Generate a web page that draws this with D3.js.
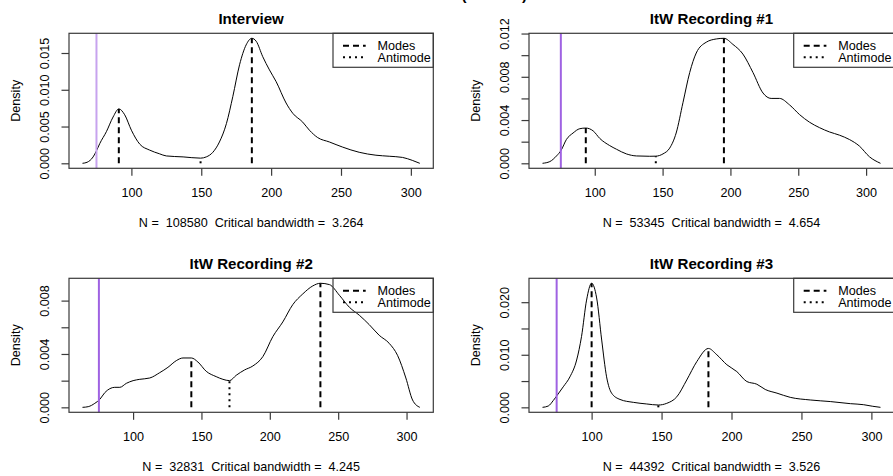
<!DOCTYPE html>
<html>
<head>
<meta charset="utf-8">
<script src="https://cdn.jsdelivr.net/npm/d3@7"></script>
<style>
  body { margin: 0; background: #fff; }
  svg { display: block; }
  text { font-family: "Liberation Sans", Arial, Helvetica, sans-serif; fill: #000; }
</style>
</head>
<body>
<svg id="chart" width="893" height="476"></svg>
<script>
// ---- figure and panel text ----
const figureTitle = "Mean F0 (in Hertz)";
const titles = ["Interview", "ItW Recording #1", "ItW Recording #2", "ItW Recording #3"];
const sampleSizes = ["108580", "53345", "32831", "44392"];
const bandwidths = ["3.264", "4.654", "4.245", "3.526"];
const legendLabels = ["Modes", "Antimode"];
const yAxisTitle = "Density";

// ---- axis ticks ----
const xTicks = [100, 150, 200, 250, 300];
const yTicksInterview = [0, 0.005, 0.010, 0.015];
const yLabelsInterview = ["0.000", "0.005", "0.010", "0.015"];
const yTicksRec1 = [0, 0.002, 0.004, 0.006, 0.008, 0.010, 0.012];
const yLabelsRec1 = ["0.000", "", "0.004", "", "0.008", "", "0.012"];
const yTicksRec2 = [0, 0.002, 0.004, 0.006, 0.008];
const yLabelsRec2 = ["0.000", "", "0.004", "", "0.008"];
const yTicksRec3 = [0, 0.005, 0.010, 0.015, 0.020];
const yLabelsRec3 = ["0.000", "", "0.010", "", "0.020"];

// ---- density estimates (x, density) ----
const interviewX = [65, 68.3, 72.6, 75, 77.4, 82.1, 86.9, 91, 95.2, 100, 106, 113, 120, 125, 137, 149.5, 153.6, 158.3, 163, 168, 172.6, 177.4, 182.1, 186.2, 189.3, 194, 198.8, 203.6, 210.7, 215.5, 222.6, 227.4, 233.3, 241.7, 251.2, 263, 275, 284.5, 294, 301, 306.4];
const interviewY = [0, 0.00014, 0.00087, 0.0017, 0.0027, 0.0043, 0.0063, 0.0074, 0.0066, 0.0045, 0.0026, 0.0018, 0.0013, 0.0010, 0.00087, 0.0007, 0.00087, 0.0015, 0.0029, 0.0054, 0.0091, 0.0134, 0.0161, 0.0170, 0.0166, 0.0145, 0.0127, 0.0111, 0.0082, 0.0068, 0.0056, 0.0045, 0.0035, 0.0029, 0.0022, 0.0015, 0.0011, 0.00096, 0.0008, 0.0004, 0];

const rec1X = [61.5, 66.9, 71.8, 75.2, 79.1, 84, 89, 93.4, 98.8, 103.7, 111, 116, 123.3, 130.7, 140.5, 145, 150.3, 155.2, 160, 165, 170, 174.8, 182.2, 189.6, 195.2, 201.8, 209.2, 216.6, 224, 230, 236.2, 243.6, 251, 258.3, 265.6, 273, 280.4, 287.7, 295, 302.5, 310.6];
const rec1Y = [0, 0.00016, 0.00068, 0.0012, 0.0022, 0.0028, 0.0032, 0.00326, 0.0030, 0.0023, 0.00164, 0.0013, 0.00087, 0.00068, 0.00065, 0.00066, 0.00087, 0.0014, 0.0028, 0.0056, 0.0084, 0.0102, 0.0112, 0.0115, 0.01156, 0.0110, 0.0101, 0.0084, 0.0065, 0.0060, 0.0060, 0.0054, 0.0045, 0.0038, 0.0033, 0.0029, 0.0026, 0.0022, 0.0016, 0.0006, 0];

const rec2X = [63, 67.2, 72, 75.7, 79.3, 83, 86.6, 90.3, 95.1, 100, 104.9, 112.2, 119.5, 125.5, 131.6, 136.5, 142.6, 147.4, 153.5, 160.8, 165.7, 170.5, 175.4, 181.5, 187.6, 194.9, 202.2, 209.5, 216.8, 224.1, 231.4, 237, 243.6, 250.9, 258.2, 265.5, 272.7, 280, 287.3, 293.4, 299.5, 304.4, 309.7];
const rec2Y = [0, 0.00005, 0.0003, 0.0006, 0.0011, 0.0014, 0.0015, 0.0015, 0.0018, 0.0020, 0.0021, 0.0022, 0.0026, 0.0030, 0.0035, 0.0037, 0.0037, 0.0034, 0.0027, 0.0023, 0.0021, 0.0020, 0.0024, 0.0028, 0.0031, 0.0038, 0.0053, 0.0064, 0.0077, 0.0085, 0.0091, 0.0093, 0.0092, 0.0084, 0.0075, 0.0069, 0.0062, 0.0054, 0.0048, 0.0039, 0.0022, 0.00055, 0];

const rec3X = [64.9, 69, 72.6, 75.4, 79.7, 84.5, 89.3, 92.8, 96.4, 100, 103.6, 107.2, 110.7, 114.3, 120.3, 129.8, 139.4, 147.7, 153.7, 160.9, 168, 175.2, 183.5, 189.5, 196.7, 203.8, 211, 218.1, 224.1, 232.5, 242, 256.3, 270.6, 285, 294.5, 301, 306.5];
const rec3Y = [0, 0.00025, 0.0013, 0.0023, 0.0039, 0.0058, 0.0090, 0.0135, 0.0204, 0.0236, 0.0208, 0.0128, 0.0058, 0.0027, 0.0015, 0.00095, 0.00064, 0.00044, 0.00076, 0.0020, 0.0052, 0.0087, 0.0112, 0.0100, 0.0081, 0.0068, 0.0049, 0.0044, 0.0034, 0.0027, 0.0019, 0.0014, 0.0011, 0.0007, 0.0005, 0.0002, 0];

// ---- modes, antimodes and the pitch-floor line ----
const modesInterview = [91, 186.2];
const modesRec1 = [93.4, 195.2];
const modesRec2 = [142.6, 237];
const modesRec3 = [100, 183.5];
const antimodes = [149.5, 145, 170.5, 147.7];
const floorValue = 75;

// ---- layout ----
const frames = [
  { left: 69,  top: 33.3,  right: 433.3, bottom: 168.3 },
  { left: 529, top: 33.3,  right: 894,   bottom: 168.3 },
  { left: 69,  top: 278.3, right: 433.3, bottom: 412.3 },
  { left: 529, top: 278.3, right: 894,   bottom: 412.3 }
];
const floorColors = ["#c7a3ee", "#9f62e2", "#9f62e2", "#9f62e2"];

const panels = [
  { x: interviewX, y: interviewY, modes: modesInterview, yTicks: yTicksInterview, yLabels: yLabelsInterview },
  { x: rec1X, y: rec1Y, modes: modesRec1, yTicks: yTicksRec1, yLabels: yLabelsRec1 },
  { x: rec2X, y: rec2Y, modes: modesRec2, yTicks: yTicksRec2, yLabels: yLabelsRec2 },
  { x: rec3X, y: rec3Y, modes: modesRec3, yTicks: yTicksRec3, yLabels: yLabelsRec3 }
];

const svg = d3.select("#chart");
const FS = 12.6;
const frameColor = "#3a3a3a";

// overall title, mostly above the visible area
svg.append("text")
  .attr("x", 462).attr("y", 0.3)
  .attr("text-anchor", "middle")
  .style("font-size", "15.1px").style("font-weight", "bold")
  .text(figureTitle);

// density value at x, read from the estimate
function densityAt(xs, ys, v) {
  const i = d3.bisectLeft(xs, v);
  if (i <= 0) return ys[0];
  if (i >= xs.length) return ys[ys.length - 1];
  const t = (v - xs[i - 1]) / (xs[i] - xs[i - 1]);
  return ys[i - 1] + t * (ys[i] - ys[i - 1]);
}

panels.forEach((p, k) => {
  const f = frames[k];
  const g = svg.append("g");

  // 4% padding on each side of the data range
  const [x0, x1] = d3.extent(p.x);
  const [y0, y1] = d3.extent(p.y);
  const xPad = (x1 - x0) * 0.04, yPad = (y1 - y0) * 0.04;
  const xs = d3.scaleLinear().domain([x0 - xPad, x1 + xPad]).range([f.left, f.right]);
  const ys = d3.scaleLinear().domain([y0 - yPad, y1 + yPad]).range([f.bottom, f.top]);

  // density curve
  const pts = p.x.map((v, i) => [v, p.y[i]]);
  g.append("path")
    .datum(pts)
    .attr("fill", "none")
    .attr("stroke", "#000")
    .attr("stroke-width", 1)
    .attr("d", d3.line().x(d => xs(d[0])).y(d => ys(d[1])).curve(d3.curveMonotoneX));

  // pitch-floor line
  g.append("line")
    .attr("x1", xs(floorValue)).attr("x2", xs(floorValue))
    .attr("y1", f.top).attr("y2", f.bottom)
    .attr("stroke", floorColors[k]).attr("stroke-width", 2);

  // mode segments
  p.modes.forEach(m => {
    g.append("line")
      .attr("x1", xs(m)).attr("x2", xs(m))
      .attr("y1", ys(0)).attr("y2", ys(densityAt(p.x, p.y, m)))
      .attr("stroke", "#000").attr("stroke-width", 2)
      .attr("stroke-dasharray", "6,4");
  });
  // antimode segment
  const a = antimodes[k];
  g.append("line")
    .attr("x1", xs(a)).attr("x2", xs(a))
    .attr("y1", ys(0)).attr("y2", ys(densityAt(p.x, p.y, a)))
    .attr("stroke", "#000").attr("stroke-width", 2)
    .attr("stroke-dasharray", "2,4");

  // frame
  g.append("rect")
    .attr("x", f.left).attr("y", f.top)
    .attr("width", f.right - f.left).attr("height", f.bottom - f.top)
    .attr("fill", "none").attr("stroke", frameColor).attr("stroke-width", 1.2);

  // x axis
  const xAxis = g.append("g").attr("transform", `translate(0,${f.bottom})`)
    .call(d3.axisBottom(xs).tickValues(xTicks).tickSize(7.5).tickSizeOuter(0).tickPadding(0));
  xAxis.select(".domain").remove();
  xAxis.selectAll(".tick line").attr("stroke", frameColor).attr("stroke-width", 1.2);
  xAxis.selectAll(".tick text").remove();
  xAxis.selectAll(".tick").append("text")
    .attr("y", 28.5).attr("text-anchor", "middle")
    .style("font-size", FS + "px")
    .text(d => d);

  // y axis
  const yAxis = g.append("g").attr("transform", `translate(${f.left},0)`)
    .call(d3.axisLeft(ys).tickValues(p.yTicks).tickSize(7.5).tickSizeOuter(0));
  yAxis.select(".domain").remove();
  yAxis.selectAll(".tick line").attr("stroke", frameColor).attr("stroke-width", 1.2);
  yAxis.selectAll(".tick text").remove();
  yAxis.selectAll(".tick").append("text")
    .attr("transform", "translate(-20.5,0) rotate(-90)")
    .attr("text-anchor", "middle")
    .style("font-size", FS + "px")
    .text((d, i) => p.yLabels[i]);

  // axis title
  g.append("text")
    .attr("transform", `translate(${f.left - 49},${(f.top + f.bottom) / 2}) rotate(-90)`)
    .attr("text-anchor", "middle")
    .style("font-size", FS + "px")
    .text(yAxisTitle);

  // panel title
  g.append("text")
    .attr("x", (f.left + f.right) / 2).attr("y", f.top - 9)
    .attr("text-anchor", "middle")
    .style("font-size", "15.1px").style("font-weight", "bold")
    .text(titles[k]);

  // subtitle
  g.append("text")
    .attr("x", (f.left + f.right) / 2).attr("y", f.bottom + 58.6)
    .attr("text-anchor", "middle")
    .style("font-size", FS + "px")
    .style("white-space", "pre")
    .text(`N =  ${sampleSizes[k]}  Critical bandwidth =  ${bandwidths[k]}`);

  // legend
  const lw = 100.3, lh = 34;
  const lx = f.right - lw, ly = f.top;
  g.append("rect")
    .attr("x", lx).attr("y", ly).attr("width", lw).attr("height", lh)
    .attr("fill", "none").attr("stroke", frameColor).attr("stroke-width", 1.2);
  const dashes = ["6,4", "2,4"];
  legendLabels.forEach((lab, i) => {
    const cy = ly + 12.4 + i * 11.6;
    g.append("line")
      .attr("x1", lx + 10).attr("x2", lx + 32.7)
      .attr("y1", cy).attr("y2", cy)
      .attr("stroke", "#000").attr("stroke-width", 2)
      .attr("stroke-dasharray", dashes[i]);
    g.append("text")
      .attr("x", lx + 44.5).attr("y", cy + 4.5)
      .style("font-size", FS + "px")
      .text(lab);
  });
});
</script>
</body>
</html>
